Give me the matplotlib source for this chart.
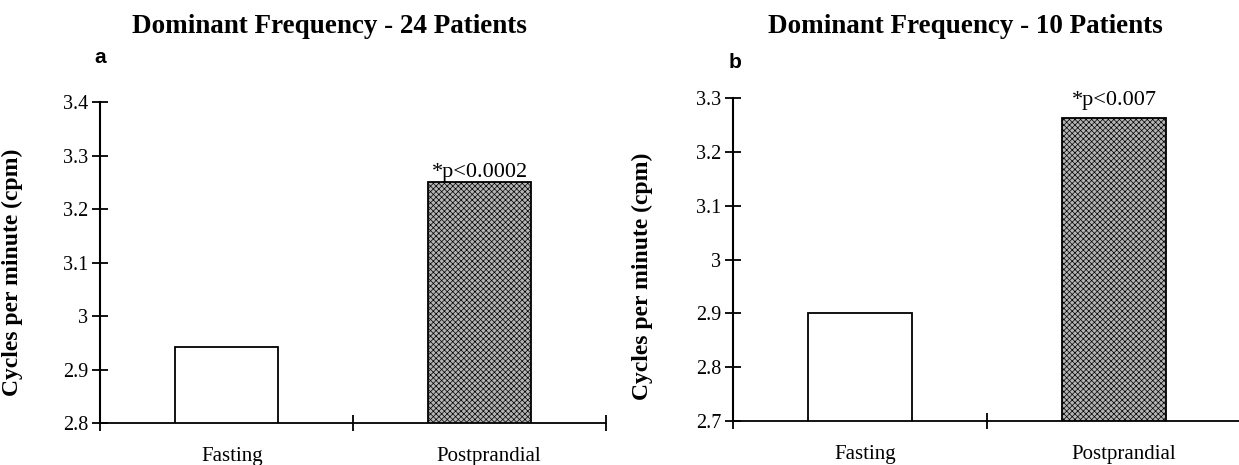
import matplotlib
matplotlib.use("Agg")
import matplotlib.pyplot as plt
import matplotlib.transforms as mtransforms
import numpy as np

# ---------------- data ----------------
categories = ["Fasting", "Postprandial"]
values_a = [2.942, 3.250]
values_b = [2.900, 3.262]
yticks_a = [2.8, 2.9, 3.0, 3.1, 3.2, 3.3, 3.4]
yticklabels_a = ["2.8", "2.9", "3", "3.1", "3.2", "3.3", "3.4"]
yticks_b = [2.7, 2.8, 2.9, 3.0, 3.1, 3.2, 3.3]
yticklabels_b = ["2.7", "2.8", "2.9", "3", "3.1", "3.2", "3.3"]
title_a = "Dominant Frequency - 24 Patients"
title_b = "Dominant Frequency - 10 Patients"
plabel_a = "*p<0.0002"
plabel_b = "*p<0.007"
ylabel = "Cycles per minute (cpm)"

SERIF = ["Liberation Serif", "DejaVu Serif"]
SANS = ["Liberation Sans", "DejaVu Sans"]
plt.rcParams["font.family"] = SERIF
plt.rcParams["hatch.color"] = "#707070"
plt.rcParams["hatch.linewidth"] = 0.5

W, H = 1239, 465
fig = plt.figure(figsize=(W / 100, H / 100), dpi=100)


def fx(px):
    return px / W


def fy(py):
    return 1 - py / H


def panel(rect, values, yticks, ylabels, plabel, poff, title, title_xy, letter, letter_xy, ylab_xy, lab_shift):
    ax = fig.add_axes(rect)
    x = np.arange(len(categories))
    ax.bar(x[0], values[0] - yticks[0], bottom=yticks[0], width=0.41,
           facecolor="white", edgecolor="black", linewidth=1.3, zorder=3)
    ax.bar(x[1], values[1] - yticks[0], bottom=yticks[0], width=0.41,
           facecolor="#b4b4b4", edgecolor="black", hatch="xxxxxx", linewidth=1.3, zorder=3)
    ax.set_xlim(-0.5, 1.5)
    ax.set_ylim(yticks[0], yticks[-1])
    for s in ["top", "right"]:
        ax.spines[s].set_visible(False)
    ax.spines["left"].set_linewidth(1.5)
    ax.spines["bottom"].set_linewidth(1.3)
    ax.set_yticks(yticks)
    ax.set_yticklabels(ylabels, fontsize=14.5)
    ax.tick_params(axis="y", direction="inout", length=11, width=1.3, pad=3)
    ax.set_xticks([-0.5, 0.5, 1.5])
    ax.set_xticklabels([])
    ax.tick_params(axis="x", which="major", direction="inout", length=12, width=1.3)
    ax.set_xticks(x, minor=True)
    ax.set_xticklabels(categories, minor=True, fontsize=15)
    ax.tick_params(axis="x", which="minor", length=0, pad=17)
    for lab, dx in zip(ax.get_xticklabels(minor=True), lab_shift):
        lab.set_transform(lab.get_transform() +
                          mtransforms.ScaledTranslation(dx / 100, 0, fig.dpi_scale_trans))
    ax.annotate(plabel, xy=(x[1], values[1]), xytext=(0, poff), textcoords="offset points",
                ha="center", va="bottom", fontsize=16)
    ax.set_ylabel(ylabel, fontsize=17, fontweight="bold")
    ax.yaxis.set_label_coords(ylab_xy[0], ylab_xy[1], transform=fig.transFigure)
    fig.text(title_xy[0], title_xy[1], title, ha="center", va="baseline",
             fontsize=19.5, fontweight="bold")
    fig.text(letter_xy[0], letter_xy[1], letter, ha="center", va="baseline",
             fontsize=15, fontweight="bold", family=SANS)
    return ax


panel([fx(100), fy(423), fx(606) - fx(100), fy(102) - fy(423)],
      values_a, yticks_a, yticklabels_a, plabel_a, 0.5,
      title_a, (fx(329), fy(33)), "a", (fx(100), fy(63)), (fx(23), fy(272)), (6, 9))

panel([fx(733), fy(421), fx(1241) - fx(733), fy(98) - fy(421)],
      values_b, yticks_b, yticklabels_b, plabel_b, 6,
      title_b, (fx(965), fy(33)), "b", (fx(735), fy(68)), (fx(653), fy(276)), (5, 10))

fig.savefig("out.png", dpi=100)
